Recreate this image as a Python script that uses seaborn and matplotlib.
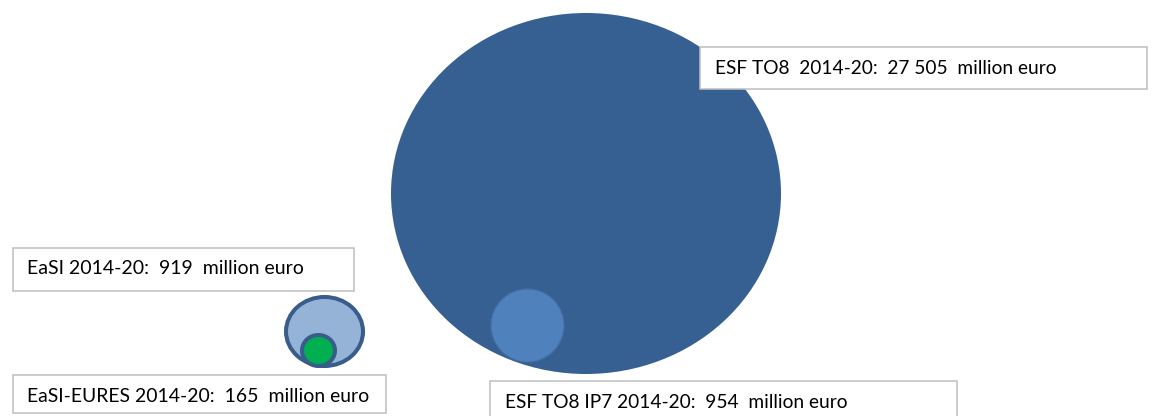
import matplotlib
matplotlib.use("Agg")
import numpy as np
import pandas as pd
import seaborn as sns
import matplotlib.pyplot as plt
from matplotlib.patches import Ellipse, Rectangle
from matplotlib import font_manager

# ---------------- data ----------------
programmes = ["ESF TO8  2014-20", "ESF TO8 IP7 2014-20", "EaSI 2014-20", "EaSI-EURES 2014-20"]
budgets_meur = [27505, 954, 919, 165]
unit_label = "million euro"

# ---------------- layout (pixel coordinates, y downward) ----------------
W, H = 1153, 416
# bubbles: centre x, centre y, width, height
bubble_geom = {
    "ESF TO8  2014-20": (586, 193.5, 390, 361),
    "ESF TO8 IP7 2014-20": (527.5, 325.5, 73, 73),
    "EaSI 2014-20": (324.5, 331.5, 77, 69),
    "EaSI-EURES 2014-20": (318.5, 350.5, 33, 31),
}
bubble_style = {
    "ESF TO8  2014-20": dict(facecolor="#376092", edgecolor="none", lw=0),
    "ESF TO8 IP7 2014-20": dict(facecolor="#4F81BD", edgecolor="#456fa5", lw=0.8),
    "EaSI 2014-20": dict(facecolor="#95B3D7", edgecolor="#385D8A", lw=2.9),
    "EaSI-EURES 2014-20": dict(facecolor="#00B050", edgecolor="#385D8A", lw=2.9),
}
# label boxes: left, top, right, bottom, text x, text y, text width target
box_geom = {
    "ESF TO8  2014-20": (700, 47, 1147, 89, 715, 69, 342),
    "ESF TO8 IP7 2014-20": (490, 381, 957, 420, 505, 403, 343),
    "EaSI 2014-20": (13, 248, 354, 291, 27, 269, 276),
    "EaSI-EURES 2014-20": (13, 375, 386, 413, 27, 397, 340),
}

sns.set_theme(style="white")
avail = {f.name for f in font_manager.fontManager.ttflist}
family = "Liberation Sans Narrow" if "Liberation Sans Narrow" in avail else "Lato"
plt.rcParams["font.family"] = [family, "DejaVu Sans"]

fig = plt.figure(figsize=(W / 100, H / 100), dpi=100)
ax = fig.add_axes([0, 0, 1, 1])
ax.set_xlim(0, W)
ax.set_ylim(H, 0)
ax.axis("off")

df = pd.DataFrame({"programme": programmes, "budget": budgets_meur})

for p in df["programme"]:
    cx, cy, w, h = bubble_geom[p]
    st = bubble_style[p]
    ax.add_patch(Ellipse((cx, cy), w, h, facecolor=st["facecolor"],
                         edgecolor=st["edgecolor"], linewidth=st["lw"], zorder=2))

texts = []
for p, v in zip(df["programme"], df["budget"]):
    l, t, r, b, tx, ty, tw = box_geom[p]
    ax.add_patch(Rectangle((l, t), r - l, b - t, facecolor="white",
                           edgecolor="#BFBFBF", linewidth=1.1, zorder=3))
    label = f"{p}:  {v:,}  {unit_label}".replace(",", " ")
    txt = ax.text(tx, ty, label, fontsize=12, color="black",
                  ha="left", va="center", zorder=4)
    texts.append((txt, tw))

fig.canvas.draw()
rend = fig.canvas.get_renderer()
for txt, tw in texts:
    w = txt.get_window_extent(rend).width
    txt.set_fontsize(12 * tw / w)

fig.savefig("out.png", dpi=100, facecolor="white")
